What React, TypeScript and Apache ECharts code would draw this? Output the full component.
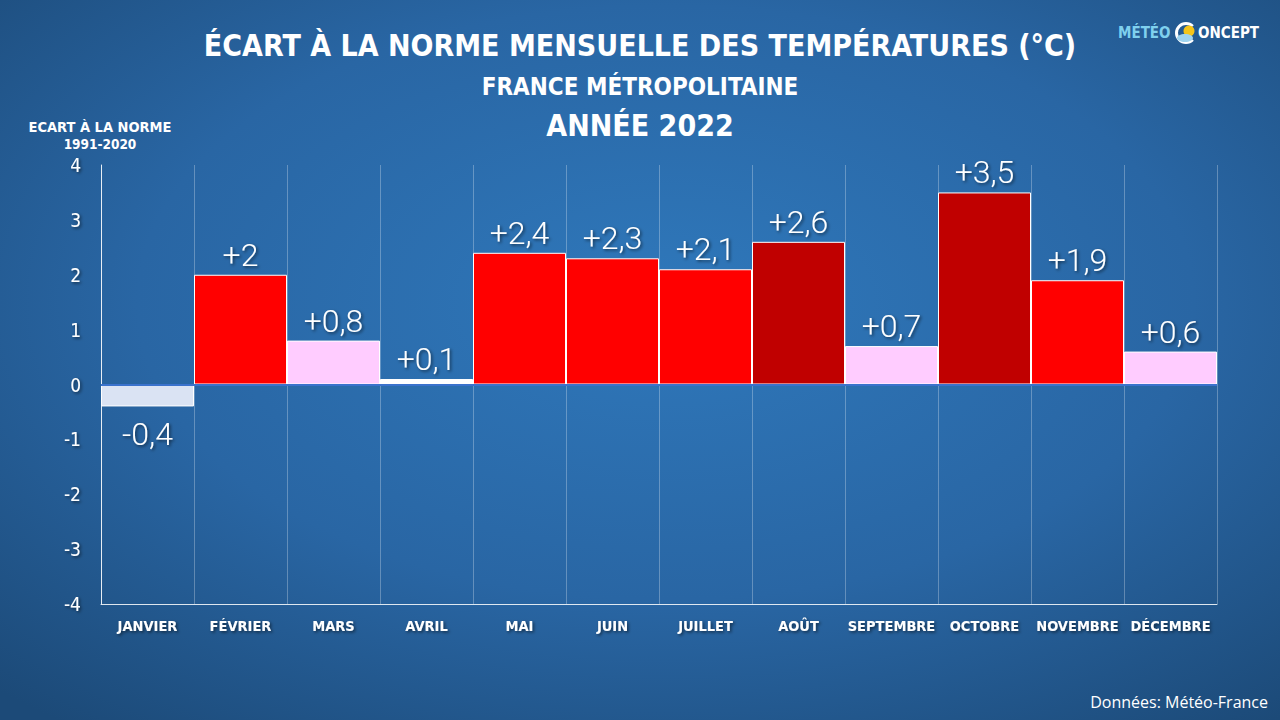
import React, { useEffect, useRef } from "react";
import * as echarts from "echarts";

const months = ["JANVIER", "FÉVRIER", "MARS", "AVRIL", "MAI", "JUIN", "JUILLET", "AOÛT", "SEPTEMBRE", "OCTOBRE", "NOVEMBRE", "DÉCEMBRE"];
const anomalies = [-0.4, 2, 0.8, 0.1, 2.4, 2.3, 2.1, 2.6, 0.7, 3.5, 1.9, 0.6];
const barColors = ["#dae3f3", "#ff0000", "#ffccff", "#ffffff", "#ff0000", "#ff0000", "#ff0000", "#c00000", "#ffccff", "#c00000", "#ff0000", "#ffccff"];
const yTicks = [-4, -3, -2, -1, 0, 1, 2, 3, 4];

const TITLE = "ÉCART À LA NORME MENSUELLE DES TEMPÉRATURES (°C)";
const SUB1 = "FRANCE MÉTROPOLITAINE";
const SUB2 = "ANNÉE 2022";
const YNAME1 = "ECART À LA NORME";
const YNAME2 = "1991-2020";
const SOURCE = "Données: Météo-France";

const DIN = "'DejaVu Sans Condensed', 'DejaVu Sans', sans-serif";

function fmt(v: number): string {
  const s = Math.abs(v).toString().replace(".", ",");
  return (v >= 0 ? "+" : "-") + s;
}

function shadowG() {
  return { shadowColor: "rgba(0,0,0,0.55)", shadowBlur: 3, shadowOffsetX: 1.5, shadowOffsetY: 1.5 } as any;
}

export default function App() {
  const ref = useRef<HTMLDivElement>(null);
  useEffect(() => {
    document.body.style.margin = "0";
    const chart = echarts.init(ref.current!, null, { renderer: "svg" });
    const shadow = { textShadowColor: "rgba(0,0,0,0.55)", textShadowBlur: 3, textShadowOffsetX: 1.5, textShadowOffsetY: 1.5 };
    chart.setOption({
      animation: false,
      backgroundColor: {
        type: "radial",
        x: 0.52,
        y: 0.42,
        r: 0.75,
        colorStops: [
          { offset: 0, color: "#2f78bb" },
          { offset: 0.55, color: "#2966a4" },
          { offset: 1, color: "#1c4a78" },
        ],
      },
      grid: { left: 101, right: 63, top: 165, bottom: 116 },
      xAxis: {
        type: "category",
        data: months,
        position: "bottom",
        axisLine: { onZero: false, lineStyle: { color: "rgba(255,255,255,0.85)", width: 1 } },
        axisTick: { show: false, interval: 0 },
        splitLine: { show: true, interval: 0, lineStyle: { color: "rgba(255,255,255,0.28)", width: 1 } },
        axisLabel: { interval: 0, color: "#ffffff", fontFamily: DIN, fontWeight: "bold", fontSize: 14.5, margin: 14, ...shadow },
      },
      yAxis: {
        type: "value",
        min: yTicks[0],
        max: yTicks[yTicks.length - 1],
        interval: 1,
        axisLine: { show: true, lineStyle: { color: "rgba(255,255,255,0.85)", width: 1 } },
        axisTick: { show: false },
        splitLine: { show: false },
        axisLabel: { color: "#ffffff", fontFamily: DIN, fontSize: 19, margin: 20, ...shadow },
      },
      series: [
        {
          type: "bar",
          data: anomalies.map((v, i) => ({
            value: v,
            itemStyle: { color: barColors[i] },
            label: v >= 0 ? { position: "top", distance: 4 } : { position: "bottom", distance: 12 },
          })),
          barCategoryGap: "0%",
          itemStyle: { borderColor: "#ffffff", borderWidth: 1 },
          label: {
            show: true,
            formatter: (p: any) => fmt(p.value),
            color: "#ffffff",
            fontFamily: "Roboto, sans-serif",
            fontWeight: 300,
            fontSize: 32,
            ...shadow,
          },
          markLine: {
            silent: true,
            symbol: ["none", "none"],
            label: { show: false },
            lineStyle: { color: "#3a72cc", width: 2, type: "solid" },
            data: [{ yAxis: 0 }],
            z: 10,
          },
        },
      ],
      graphic: [
        { type: "text", left: "center", top: 30, style: { text: TITLE, fill: "#fff", font: `bold 30px ${DIN}`, ...shadowG() } },
        { type: "text", left: "center", top: 75, style: { text: SUB1, fill: "#fff", font: `bold 24px ${DIN}`, ...shadowG() } },
        { type: "text", left: "center", top: 110, style: { text: SUB2, fill: "#fff", font: `bold 30px ${DIN}`, ...shadowG() } },
        { type: "text", x: 100, y: 119, style: { text: YNAME1, fill: "#fff", font: `bold 14.5px ${DIN}`, align: "center", ...shadowG() } },
        { type: "text", x: 100, y: 137, style: { text: YNAME2, fill: "#fff", font: `bold 13.5px ${DIN}`, align: "center", ...shadowG() } },
        { type: "text", right: 12, top: 694, style: { text: SOURCE, fill: "#ffffff", font: `16px 'Open Sans', 'Noto Sans', sans-serif` } },
        // logo
        { type: "text", x: 1118, y: 25, style: { text: "MÉTÉO", fill: "#7fd0ee", font: `bold 15px ${DIN}` } },
        { type: "arc", shape: { cx: 1186, cy: 33, r: 9.5, startAngle: Math.PI * 0.25, endAngle: Math.PI * 1.75 }, style: { stroke: "#ffffff", lineWidth: 3, fill: "none" } },
        { type: "circle", shape: { cx: 1189, cy: 31, r: 5.5 }, style: { fill: "#f5c518" } },
        { type: "ellipse", shape: { cx: 1185, cy: 38, rx: 8, ry: 4 }, style: { fill: "#9fd4ef" } },
        { type: "text", x: 1198, y: 25, style: { text: "ONCEPT", fill: "#ffffff", font: `bold 15px ${DIN}` } },
      ],
    });
    return () => chart.dispose();
  }, []);
  return <div ref={ref} style={{ width: 1280, height: 720 }} />;
}
